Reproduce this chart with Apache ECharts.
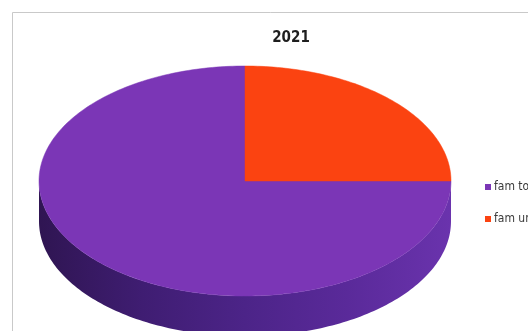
<!DOCTYPE html>
<html>
<head>
<meta charset="utf-8">
<script src="https://cdn.jsdelivr.net/npm/echarts@6/dist/echarts.min.js"></script>
<style>
  html, body { margin: 0; padding: 0; background: #fff; }
  #chart { width: 528px; height: 331px; }
</style>
</head>
<body>
<div id="chart"></div>
<script>
// Categories and shares for 2021
const categories = ['fam totali', 'fam unipersonali'];
const values = [75, 25];
const titleText = '2021';

// Top-face colours and the shading used on the visible rim
const topColors = ['#7b36b6', '#fb4311'];
const sideStops = [
  ['#2f1552', '#3f1d72', '#4c2488', '#5a2a9a', '#6a33ad'],
  ['#8a2a0a', '#a8330c', '#c23c0e', '#d8440f', '#e84a10']
];

const depth = 0.35;          // rim height in units of the vertical radius
const TWO_PI = Math.PI * 2;

// Slices run counter-clockwise from 12 o'clock
const total = values.reduce((a, b) => a + b, 0);
const angles = [];
let acc = Math.PI / 2;
values.forEach(v => {
  const span = v / total * TWO_PI;
  angles.push([acc, acc + span]);
  acc += span;
});

function arcPoints(api, a0, a1, dy) {
  const pts = [];
  const steps = Math.max(2, Math.ceil(Math.abs(a1 - a0) / 0.02));
  for (let i = 0; i <= steps; i++) {
    const t = a0 + (a1 - a0) * i / steps;
    pts.push(api.coord([Math.cos(t), Math.sin(t) - dy]));
  }
  return pts;
}

// Portion of [a0, a1] that faces the viewer (lower half of the ellipse)
function frontRanges(a0, a1) {
  const out = [];
  for (let k = -1; k <= 2; k++) {
    const lo = Math.PI + k * TWO_PI, hi = TWO_PI + k * TWO_PI;
    const s = Math.max(a0, lo), e = Math.min(a1, hi);
    if (e > s + 1e-6) out.push([s, e]);
  }
  return out;
}

function makeRender(idx) {
  return function (params, api) {
    const [a0, a1] = angles[idx];
    const children = [];
    frontRanges(a0, a1).forEach(([s, e]) => {
      const top = arcPoints(api, s, e, 0);
      const bottom = arcPoints(api, e, s, depth);
      const stops = sideStops[idx].map((c, i, arr) => ({ offset: i / (arr.length - 1), color: c }));
      children.push({
        type: 'polygon',
        shape: { points: top.concat(bottom) },
        style: {
          fill: { type: 'linear', x: 0, y: 0, x2: 1, y2: 0, colorStops: stops },
          stroke: null
        }
      });
    });
    const face = [api.coord([0, 0])].concat(arcPoints(api, a0, a1, 0));
    children.push({
      type: 'polygon',
      shape: { points: face },
      style: { fill: topColors[idx], stroke: topColors[idx], lineWidth: 0.5 }
    });
    return { type: 'group', children };
  };
}

const chart = echarts.init(document.getElementById('chart'), null, { renderer: 'canvas' });

chart.setOption({
  backgroundColor: '#ffffff',
  animation: false,
  title: {
    text: titleText,
    left: 286,
    top: 26,
    textAlign: 'center',
    textStyle: {
      fontFamily: 'Liberation Sans Narrow, DejaVu Sans Condensed, sans-serif',
      fontSize: 15,
      fontWeight: 'bold',
      color: '#1e1e1e'
    }
  },
  legend: {
    orient: 'vertical',
    left: 480,
    top: 175,
    icon: 'rect',
    itemWidth: 6,
    itemHeight: 6,
    itemGap: 18,
    data: categories,
    textStyle: {
      fontFamily: 'Liberation Sans Narrow, DejaVu Sans Condensed, sans-serif',
      fontSize: 12,
      lineHeight: 14,
      color: '#3a3a3a',
      padding: [0, 0, 0, -2]
    }
  },
  grid: { left: 39, top: 66, width: 412, height: 230 },
  xAxis: { type: 'value', min: -1, max: 1, show: false },
  yAxis: { type: 'value', min: -1, max: 1, show: false },
  graphic: [{
    type: 'rect',
    shape: { x: 12.5, y: 12.5, width: 700, height: 500 },
    style: { fill: null, stroke: '#c9c9c9', lineWidth: 1 },
    silent: true,
    z: -1
  }],
  series: categories.map((name, i) => ({
    type: 'custom',
    name: name,
    coordinateSystem: 'cartesian2d',
    clip: false,
    itemStyle: { color: topColors[i] },
    data: [[0, 0, values[i]]],
    encode: { x: 0, y: 1 },
    renderItem: makeRender(i)
  }))
});
</script>
</body>
</html>
